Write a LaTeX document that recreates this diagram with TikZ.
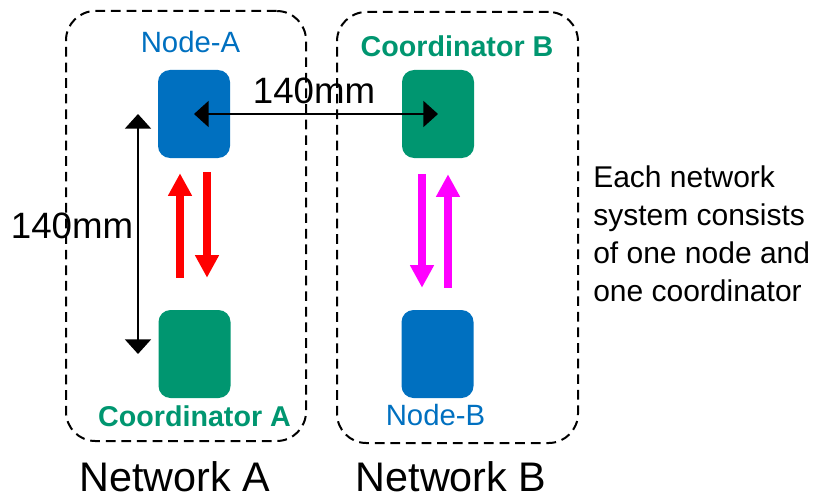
\documentclass[tikz,border=0pt]{standalone}
\usepackage{fontspec}
\setmainfont{Liberation Sans}
\usetikzlibrary{arrows.meta, calc}
\definecolor{myblue}{RGB}{0,112,192}
\definecolor{mygreen}{RGB}{0,150,112}
\definecolor{myred}{RGB}{255,0,0}
\definecolor{mymagenta}{RGB}{255,0,255}

\begin{document}
\begin{tikzpicture}[x=0.75pt, y=-0.75pt,
    netbox/.style={draw, line width=1.5pt, dash pattern=on 7.3pt off 4.4pt,
        rounded corners=22pt, minimum width=180pt, minimum height=322.5pt},
    devbox/.style={rounded corners=9pt, minimum width=54pt, minimum height=66pt, inner sep=0pt},
    devlabel/.style={inner sep=0pt, font=\fontsize{22}{26}\selectfont},
    dimarrow/.style={line width=1.5pt,
        {Triangle[width=19.5pt, length=11pt]}-{Triangle[width=19.5pt, length=11pt]}},
    fatarrow/.style={line width=6pt, -{Triangle[width=17pt, length=17pt]}}]
    \useasboundingbox (0, 0) rectangle (823, 499);

    \node[netbox] (netA) at (186, 226) {};
    \node[netbox, minimum width=180.75pt, minimum height=323.25pt] (netB) at (457.5, 227.5) {};

    \node[devbox, fill=myblue] (nodeA) at (194, 114) {};
    \node[devbox, fill=mygreen] (coordB) at (438, 114) {};
    \node[devbox, fill=mygreen] (coordA) at (194.5, 354) {};
    \node[devbox, fill=myblue] (nodeB) at (437.5, 354) {};

    \node[devlabel, color=myblue] (nodeAlabel) at (190.5, 42.5) {Node-A};
    \node[devlabel, color=mygreen, font=\fontsize{21.5}{26}\selectfont\bfseries] (coordBlabel) at (457, 46) {Coordinator B};
    \node[devlabel, color=mygreen, font=\fontsize{21.5}{26}\selectfont\bfseries] (coordAlabel) at (194.5, 416.5) {Coordinator A};
    \node[devlabel, color=myblue] (nodeBlabel) at (435.5, 415) {Node-B};

    \coordinate (dimx) at (138, 0);
    \draw[dimarrow] (nodeA.center) -- (coordB.center);
    \draw[dimarrow] (nodeA.center -| dimx) -- (coordA.center -| dimx);
    \node[inner sep=0pt, font=\fontsize{27.5}{32}\selectfont] (dimh) at (314, 91) {140mm};
    \node[inner sep=0pt, font=\fontsize{27.5}{32}\selectfont] (dimv) at (72, 226) {140mm};

    \draw[fatarrow, color=myred] ($(coordA.north)+(-14.5, -32)$) -- ($(nodeA.south)+(-14, 15)$);
    \draw[fatarrow, color=myred] ($(nodeA.south)+(13, 14)$) -- ($(coordA.north)+(12.5, -32)$);
    \draw[fatarrow, color=mymagenta] ($(coordB.south)+(-16, 16)$) -- ($(nodeB.north)+(-15.5, -22)$);
    \draw[fatarrow, color=mymagenta] ($(nodeB.north)+(10.5, -22)$) -- ($(coordB.south)+(10, 16)$);

    \node[inner sep=0pt, anchor=north west, align=left, font=\fontsize{22.5}{28.7}\selectfont] (note) at (593, 165)
        {Each network\\system consists\\of one node and\\one coordinator};

    \node[inner sep=0pt, font=\fontsize{31}{37}\selectfont] (netAlabel) at (175, 477) {Network A};
    \node[inner sep=0pt, font=\fontsize{31}{37}\selectfont] (netBlabel) at (451, 477) {Network B};
\end{tikzpicture}
\end{document}
